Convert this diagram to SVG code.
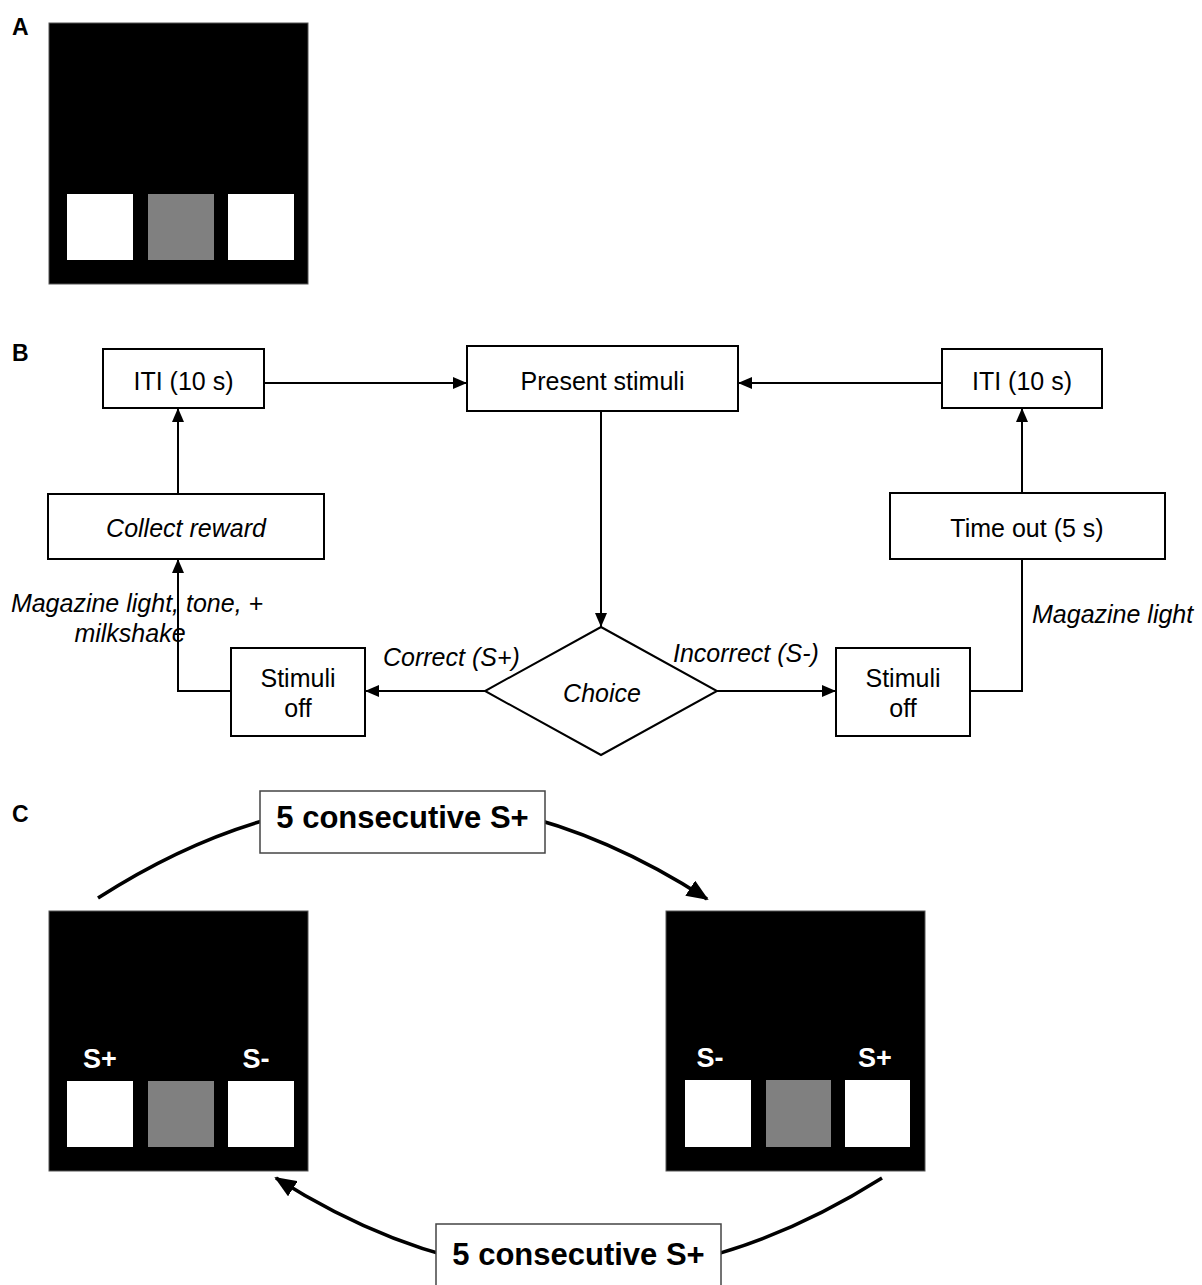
<svg xmlns="http://www.w3.org/2000/svg" width="1202" height="1285" viewBox="0 0 1202 1285">
<style>
text{font-family:"Liberation Sans",Arial,Helvetica,sans-serif;fill:#000}
.panel{font-size:23px;font-weight:bold}
.t{font-size:25px;text-anchor:middle}
.i{font-size:25px;font-style:italic}
.box{fill:#fff;stroke:#000;stroke-width:2}
.ln{fill:none;stroke:#000;stroke-width:2}
.arc{fill:none;stroke:#000;stroke-width:3.5}
.scr{fill:#000;stroke:#555;stroke-width:1}
.wh{fill:#fff}
.gr{fill:#808080}
.sl{font-size:27px;font-weight:bold;fill:#fff;text-anchor:middle}
.cbox{fill:#fff;stroke:#444;stroke-width:1.5}
.ct{font-size:31px;font-weight:bold;text-anchor:middle}
</style>
<defs>
<marker id="ah" markerUnits="userSpaceOnUse" markerWidth="14" markerHeight="12" refX="14" refY="6" orient="auto"><path d="M0,0 L14,6 L0,12 z" fill="#000"/></marker>
<marker id="ahb" markerUnits="userSpaceOnUse" markerWidth="22" markerHeight="18" refX="20" refY="9" orient="auto"><path d="M0,0 L22,9 L0,18 z" fill="#000"/></marker>
</defs>
<rect width="1202" height="1285" fill="#fff"/>

<text class="panel" x="12" y="35">A</text>
<text class="panel" x="12" y="361">B</text>
<text class="panel" x="12" y="822">C</text>

<g id="screenA">
<rect class="scr" x="49" y="23" width="259" height="261"/>
<rect class="wh" x="67" y="194" width="66" height="66"/>
<rect class="gr" x="148" y="194" width="66" height="66"/>
<rect class="wh" x="228" y="194" width="66" height="66"/>
</g>

<g id="connectors">
<path class="ln" d="M264,383 H467" marker-end="url(#ah)"/>
<path class="ln" d="M942,383 H738" marker-end="url(#ah)"/>
<path class="ln" d="M601,411 V627" marker-end="url(#ah)"/>
<path class="ln" d="M178,494 V408" marker-end="url(#ah)"/>
<path class="ln" d="M231,691 H178 V559" marker-end="url(#ah)"/>
<path class="ln" d="M485,691 H365" marker-end="url(#ah)"/>
<path class="ln" d="M717,691 H836" marker-end="url(#ah)"/>
<path class="ln" d="M970,691 H1022 V559"/>
<path class="ln" d="M1022,493 V408" marker-end="url(#ah)"/>
<path class="arc" d="M98,898 Q403,702 707,899" marker-end="url(#ahb)"/>
<path class="arc" d="M882,1178 Q578,1370 276,1178" marker-end="url(#ahb)"/>
</g>

<g id="iti-left"><rect class="box" x="103" y="349" width="161" height="59"/><text class="t" x="183.5" y="390">ITI (10 s)</text></g>
<g id="present"><rect class="box" x="467" y="346" width="271" height="65"/><text class="t" x="602.5" y="390">Present stimuli</text></g>
<g id="iti-right"><rect class="box" x="942" y="349" width="160" height="59"/><text class="t" x="1022" y="390">ITI (10 s)</text></g>
<g id="collect"><rect class="box" x="48" y="494" width="276" height="65"/><text class="t" x="186" y="537" font-style="italic">Collect reward</text></g>
<g id="timeout"><rect class="box" x="890" y="493" width="275" height="66"/><text class="t" x="1027" y="537">Time out (5 s)</text></g>
<g id="stim-off-left"><rect class="box" x="231" y="648" width="134" height="88"/><text class="t" x="298" y="687">Stimuli</text><text class="t" x="298" y="717">off</text></g>
<g id="stim-off-right"><rect class="box" x="836" y="648" width="134" height="88"/><text class="t" x="903" y="687">Stimuli</text><text class="t" x="903" y="717">off</text></g>
<g id="choice"><path class="box" d="M601,627 L717,691 L601,755 L485,691 Z"/><text class="i" x="602" y="702" text-anchor="middle">Choice</text></g>

<g id="labels">
<text class="i" x="137" y="612" text-anchor="middle">Magazine light, tone, +</text>
<text class="i" x="130" y="642" text-anchor="middle">milkshake</text>
<text class="i" x="383" y="666">Correct (S+)</text>
<text class="i" x="673" y="662">Incorrect (S-)</text>
<text class="i" x="1032" y="623">Magazine light</text>
</g>

<g id="screenC-left">
<rect class="scr" x="49" y="911" width="259" height="260"/>
<rect class="wh" x="67" y="1081" width="66" height="66"/>
<rect class="gr" x="148" y="1081" width="66" height="66"/>
<rect class="wh" x="228" y="1081" width="66" height="66"/>
<text class="sl" x="100" y="1068">S+</text>
<text class="sl" x="256" y="1068">S-</text>
</g>
<g id="screenC-right">
<rect class="scr" x="666" y="911" width="259" height="260"/>
<rect class="wh" x="685" y="1080" width="66" height="67"/>
<rect class="gr" x="766" y="1080" width="65" height="67"/>
<rect class="wh" x="845" y="1080" width="65" height="67"/>
<text class="sl" x="710" y="1067">S-</text>
<text class="sl" x="875" y="1067">S+</text>
</g>

<g id="label-top"><rect class="cbox" x="260" y="791" width="285" height="62"/><text class="ct" x="402.5" y="828">5 consecutive S+</text></g>
<g id="label-bottom"><rect class="cbox" x="436" y="1224" width="285" height="70"/><text class="ct" x="578.5" y="1265">5 consecutive S+</text></g>
</svg>
